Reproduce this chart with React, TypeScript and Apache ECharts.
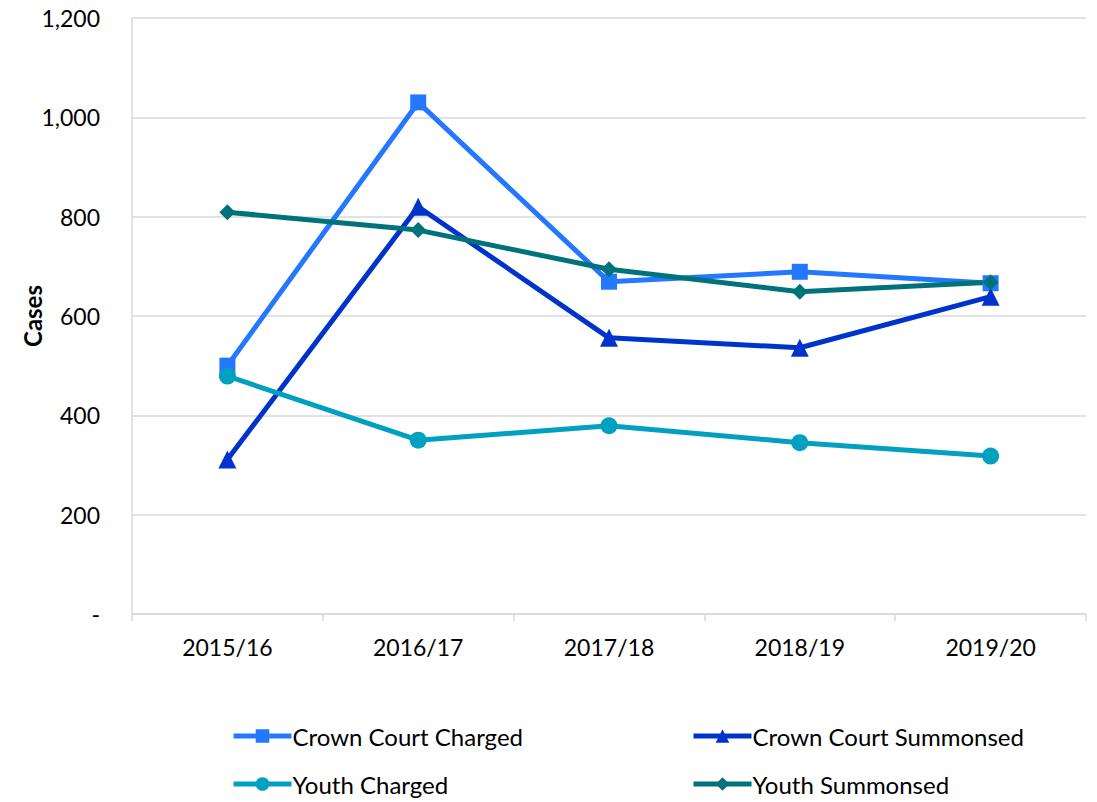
import React, { useEffect, useRef } from "react";
import * as echarts from "echarts";

const categories = ["2015/16", "2016/17", "2017/18", "2018/19", "2019/20"];
const crownCourtCharged = [500, 1030, 669, 689, 666];
const crownCourtSummonsed = [311, 820, 556, 536, 639];
const youthCharged = [479, 350, 379, 345, 318];
const youthSummonsed = [809, 773, 694, 649, 668];

const FONT = "Lato, 'Open Sans', sans-serif";

export default function App() {
  const ref = useRef<HTMLDivElement>(null);
  useEffect(() => {
    if (!ref.current) return;
    const chart = echarts.init(ref.current, null, { renderer: "svg" });
    const mk = (name: string, data: number[], color: string, symbol: string, size: number) => ({
      name,
      type: "line",
      data,
      symbol,
      symbolSize: size,
      lineStyle: { color, width: 5 },
      itemStyle: { color },
      z: 3,
    });
    const legendCommon = {
      itemWidth: 58,
      itemHeight: 17,
      itemGap: 0,
      lineStyle: { width: 5 },
      textStyle: { fontFamily: FONT, fontSize: 24, color: "#000", padding: [0, 0, 0, -4] },
    };
    chart.setOption({
      animation: false,
      textStyle: { fontFamily: FONT },
      grid: { left: 132, right: 11, top: 18, bottom: 188, containLabel: false },
      legend: [
        { ...legendCommon, data: ["Crown Court Charged"], left: 226, top: 719 },
        { ...legendCommon, data: ["Crown Court Summonsed"], left: 686, top: 719 },
        { ...legendCommon, data: ["Youth Charged"], left: 226, top: 767 },
        { ...legendCommon, data: ["Youth Summonsed"], left: 686, top: 767 },
      ],
      xAxis: {
        type: "category",
        data: categories,
        boundaryGap: true,
        axisLine: { lineStyle: { color: "#d9d9d9", width: 1.5 } },
        axisTick: { show: true, length: 7, lineStyle: { color: "#d9d9d9", width: 1.5 } },
        axisLabel: { fontFamily: FONT, fontSize: 23, color: "#000", margin: 21 },
      },
      yAxis: {
        type: "value",
        min: 0,
        max: 1200,
        interval: 200,
        name: "Cases",
        nameLocation: "middle",
        nameGap: 88,
        nameRotate: 90,
        nameMoveOverlap: false,
        nameTextStyle: { fontFamily: FONT, fontSize: 24, fontWeight: "bold", color: "#000" },
        axisLine: { show: true, lineStyle: { color: "#d9d9d9", width: 1.5 } },
        axisTick: { show: false },
        splitLine: { lineStyle: { color: "#d9d9d9", width: 1.5 } },
        axisLabel: {
          fontFamily: FONT,
          fontSize: 23,
          color: "#000",
          margin: 32,
          formatter: (v: number) => (v === 0 ? "-" : v.toLocaleString("en-US")),
        },
      },
      series: [
        mk("Crown Court Charged", crownCourtCharged, "#2478FF", "rect", 16),
        mk("Crown Court Summonsed", crownCourtSummonsed, "#0033CC", "triangle", 18),
        mk("Youth Charged", youthCharged, "#00A0C0", "circle", 17),
        mk("Youth Summonsed", youthSummonsed, "#00737A", "diamond", 16),
      ],
    });
    return () => chart.dispose();
  }, []);
  return <div ref={ref} style={{ width: 1097, height: 802, position: "absolute", left: 0, top: 0 }} />;
}
